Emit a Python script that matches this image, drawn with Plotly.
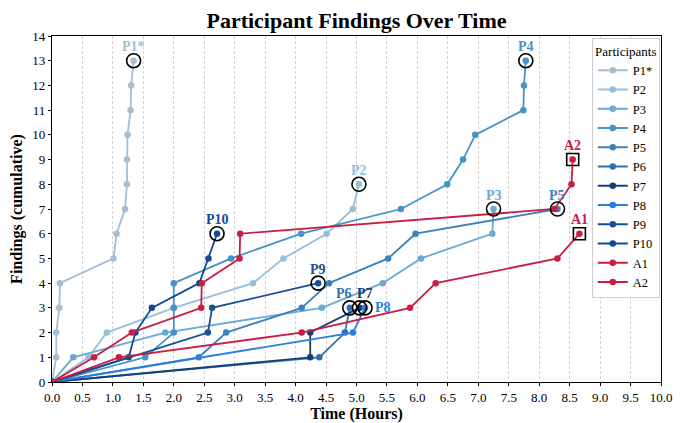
import plotly.graph_objects as go

# ---- data (hours, cumulative findings) ----
names = ["P1*", "P2", "P3", "P4", "P5", "P6", "P7", "P8", "P9", "P10", "A1", "A2"]

P1_t = [0, 0.07, 0.07, 0.12, 0.13, 1.01, 1.06, 1.20, 1.23, 1.23, 1.24, 1.29, 1.30, 1.34]
P1_y = [0, 1, 2, 3, 4, 5, 6, 7, 8, 9, 10, 11, 12, 13]
P2_t = [0, 0.60, 0.90, 2.00, 3.30, 3.80, 4.51, 4.94, 5.04]
P2_y = [0, 1, 2, 3, 4, 5, 6, 7, 8]
P3_t = [0, 0.35, 1.86, 4.43, 5.43, 6.06, 7.23, 7.25]
P3_y = [0, 1, 2, 3, 4, 5, 6, 7]
P4_t = [0, 1.53, 2.00, 2.00, 2.00, 2.94, 4.09, 5.73, 6.49, 6.75, 6.95, 7.74, 7.75, 7.78]
P4_y = [0, 1, 2, 3, 4, 5, 6, 7, 8, 9, 10, 11, 12, 13]
P5_t = [0, 2.41, 2.86, 4.10, 4.55, 5.52, 5.97, 8.30]
P5_y = [0, 1, 2, 3, 4, 5, 6, 7]
P6_t = [0, 4.39, 4.81, 4.89]
P6_y = [0, 1, 2, 3]
P7_t = [0, 4.24, 4.24, 5.05]
P7_y = [0, 1, 2, 3]
P8_t = [0, 4.94, 5.14]
P8_y = [0, 2, 3]
P9_t = [0, 2.56, 2.63, 4.37]
P9_y = [0, 2, 3, 4]
P10_t = [0, 1.26, 1.37, 1.64, 2.42, 2.57, 2.71]
P10_y = [0, 1, 2, 3, 4, 5, 6]
A1_t = [0, 1.10, 4.10, 5.88, 6.30, 8.30, 8.66]
A1_y = [0, 1, 2, 3, 4, 5, 6]
A2_t = [0, 0.69, 1.31, 2.45, 2.46, 3.08, 3.09, 8.25, 8.53, 8.55]
A2_y = [0, 1, 2, 3, 4, 5, 6, 7, 8, 9]

series_t = [P1_t, P2_t, P3_t, P4_t, P5_t, P6_t, P7_t, P8_t, P9_t, P10_t, A1_t, A2_t]
series_y = [P1_y, P2_y, P3_y, P4_y, P5_y, P6_y, P7_y, P8_y, P9_y, P10_y, A1_y, A2_y]

colors = ["#a4bed6", "#93c0df", "#6aaad4", "#4793c6", "#3b82bd", "#2f70ae",
          "#163f7a", "#2a7fdc", "#185096", "#104a94", "#c81e43", "#c81e43"]

# label offsets (x shift px, y shift px)
label_shift = {"P6": (-6, 14), "P7": (5, 14), "P8": (18, 0)}

FONT = "Liberation Serif, Times New Roman, serif"

fig = go.Figure()
for n, t, y, c in zip(names, series_t, series_y, colors):
    fig.add_trace(go.Scatter(x=t, y=y, mode="lines+markers", name=n,
                             line=dict(color=c, width=1.8),
                             marker=dict(color=c, size=6.5)))

# end markers and labels
for n, t, y, c in zip(names, series_t, series_y, colors):
    is_a = n.startswith("A")
    fig.add_trace(go.Scatter(x=[t[-1]], y=[y[-1]], mode="markers", showlegend=False,
                             hoverinfo="skip",
                             marker=dict(symbol="square-open" if is_a else "circle-open",
                                         size=12 if is_a else 14, color="black",
                                         line=dict(color="black", width=1.6))))
    dx, dy = label_shift.get(n, (0, 14))
    fig.add_annotation(x=t[-1], y=y[-1], text="<b>%s</b>" % n, showarrow=False,
                       xshift=dx, yshift=dy,
                       font=dict(family=FONT, size=14, color=c))

W, H = 680, 415
fig.update_layout(
    width=W, height=H,
    margin=dict(l=43.5, r=26.5, t=28, b=41, autoexpand=False),
    paper_bgcolor="white", plot_bgcolor="white",
    font=dict(family=FONT, size=12, color="black"),
    title=dict(text="<b>Participant Findings Over Time</b>", x=0.5, xref="paper",
               y=1 - 12.5 / H, yref="container", yanchor="middle", automargin=False,
               font=dict(family=FONT, size=22, color="black")),
    legend=dict(x=0.998, y=0.995, xanchor="right", yanchor="top",
                bgcolor="rgba(255,255,255,0.9)", bordercolor="#cccccc", borderwidth=1,
                font=dict(family=FONT, size=12.5),
                title=dict(text="Participants", font=dict(family=FONT, size=13), side="top center"),
                itemwidth=30, tracegroupgap=0),
    showlegend=True,
)
fig.update_xaxes(range=[0, 10], dtick=0.5, tick0=0, tickformat=".1f", automargin=False,
                 showgrid=True, gridcolor="#d2d2d2", gridwidth=0.8, griddash="3px,2px",
                 showline=True, linecolor="black", linewidth=1.2, mirror=True,
                 ticks="outside", ticklen=3, tickcolor="black", zeroline=False,
                 tickfont=dict(family=FONT, size=13),
                 title=dict(text="<b>Time (Hours)</b>", standoff=1,
                            font=dict(family=FONT, size=16)))
fig.update_yaxes(range=[0, 14], dtick=1, tick0=0, showgrid=False, automargin=False,
                 showline=True, linecolor="black", linewidth=1.2, mirror=True,
                 ticks="outside", ticklen=3, tickcolor="black", zeroline=False,
                 tickfont=dict(family=FONT, size=13),
                 title=dict(text="<b>Findings (cumulative)</b>", standoff=6,
                            font=dict(family=FONT, size=16)))

fig.write_html("out.html")
